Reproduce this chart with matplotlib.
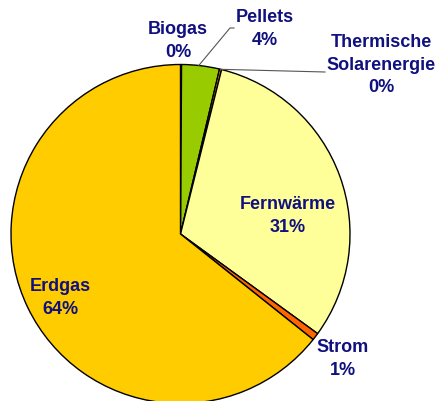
import matplotlib
matplotlib.use("Agg")
import matplotlib.pyplot as plt
import numpy as np

categories = ["Biogas", "Pellets", "Thermische\nSolarenergie", "Fernwärme", "Strom", "Erdgas"]
values = [0.1, 3.6, 0.2, 31.1, 0.7, 64.3]
colors = ["#669933", "#99CC00", "#FF9900", "#FFFF99", "#FF6600", "#FFCC00"]

W, H = 440, 401
fig = plt.figure(figsize=(W / 100, H / 100), dpi=100)
ax = fig.add_axes([0, 0, 1, 1])
ax.set_xlim(0, W)
ax.set_ylim(0, H)
ax.set_aspect("equal")
ax.axis("off")

cx, cy, r = 180.5, H - 234, 169.5
wedges, _ = ax.pie(values, colors=colors, startangle=90, counterclock=False,
                   center=(cx, cy), radius=r, frame=True,
                   wedgeprops=dict(edgecolor="black", linewidth=1.0))
ax.set_xlim(0, W)
ax.set_ylim(0, H)
ax.axis("off")

txt = dict(fontfamily=["Liberation Sans", "DejaVu Sans"], fontweight="bold",
           fontsize=13, color="#10107F", ha="center", va="center",
           linespacing=1.45)

# label centres (pixel coordinates from top-left)
label_pos = {
    "Biogas": (178, 41),
    "Pellets": (265, 29),
    "Thermische\nSolarenergie": (381, 65),
    "Fernwärme": (288, 216),
    "Strom": (343, 359),
    "Erdgas": (60, 298),
}
for name, v in zip(categories, values):
    x, y = label_pos[name]
    ax.text(x, H - y, f"{name}\n{int(round(v))}%", **txt)

# leader lines
def rim_point(idx, frac=0.5):
    start = 90 - sum(values[:idx]) * 3.6
    ang = np.deg2rad(start - values[idx] * 3.6 * frac)
    return cx + r * np.cos(ang), cy + r * np.sin(ang)

px, py = rim_point(1, 0.45)
ax.plot([px, 230, 234], [py, H - 28, H - 28], color="#555555", lw=0.8)
tx, ty = rim_point(2, 0.5)
ax.plot([tx, 325], [ty, H - 72], color="#555555", lw=0.8)

fig.savefig("out.png", dpi=100)
